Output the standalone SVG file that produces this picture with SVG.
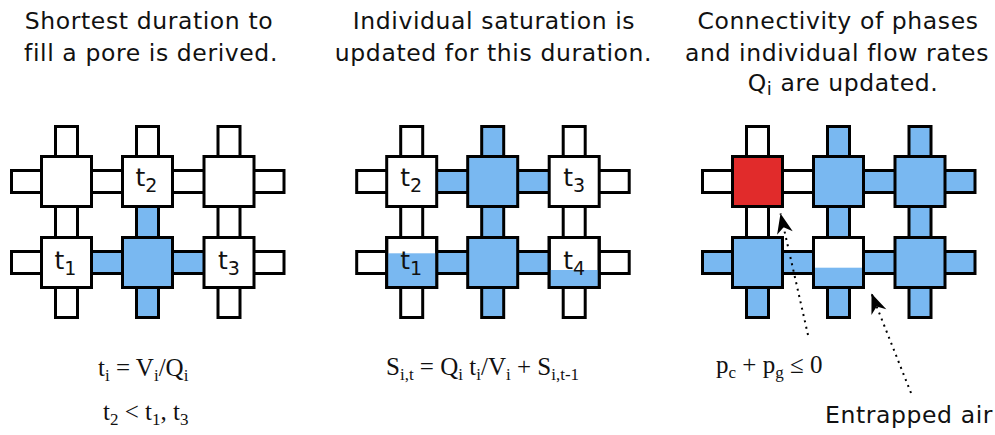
<svg xmlns="http://www.w3.org/2000/svg" width="995" height="435" viewBox="0 0 995 435">
<defs>
<style>
.tw{fill:#fff;stroke:#000;stroke-width:3}
.tb{fill:#79b8f1;stroke:#000;stroke-width:3}
.tr{fill:#e12b2b;stroke:#000;stroke-width:3}
.fb{fill:#79b8f1}
.out{fill:none;stroke:#000;stroke-width:3}
.title{font-family:"DejaVu Sans",Verdana,sans-serif;font-size:23.5px;letter-spacing:0.6px;fill:#111;text-anchor:middle}
.lbl{font-family:"DejaVu Sans",Verdana,sans-serif;font-size:25px;fill:#111;text-anchor:middle}
.math{font-family:"Liberation Serif","Times New Roman",serif;font-size:25px;fill:#111}
.sub{font-size:17px}
.dot{fill:none;stroke:#000;stroke-width:2;stroke-dasharray:2 4.5}
</style>
<marker id="ah" viewBox="-21 -9 22 18" refX="0" refY="0" markerWidth="22" markerHeight="18" markerUnits="userSpaceOnUse" orient="auto">
<path d="M0,0 L-20,-8 L-14,0 L-20,8 Z" fill="#000"/>
</marker>
</defs>
<rect width="995" height="435" fill="#fff"/>

<!-- titles -->
<g id="titles">
<text class="title" x="149" y="28.5">Shortest duration to</text>
<text class="title" x="151" y="60.5">fill a pore is derived.</text>
<text class="title" x="494" y="28.5">Individual saturation is</text>
<text class="title" x="493.5" y="60.5">updated for this duration.</text>
<text class="title" x="838" y="28.5">Connectivity of phases</text>
<text class="title" x="837" y="60.5">and individual flow rates</text>
<text class="title" x="843" y="90.5">Q<tspan font-size="18" dy="4">i</tspan><tspan dy="-4"> are updated.</tspan></text>
</g>

<!-- Panel 1 -->
<g id="panel1">
<g id="p1-throats">
<rect class="tw" x="55.5" y="126.5" width="22" height="40"/>
<rect class="tw" x="136.5" y="126.5" width="22" height="40"/>
<rect class="tw" x="218" y="126.5" width="22" height="40"/>
<rect class="tw" x="11.5" y="170.5" width="40" height="22"/>
<rect class="tw" x="81.5" y="170.5" width="51" height="22"/>
<rect class="tw" x="162.5" y="170.5" width="51.5" height="22"/>
<rect class="tw" x="244" y="170.5" width="40" height="22"/>
<rect class="tw" x="55.5" y="196.5" width="22" height="51"/>
<rect class="tb" x="136.5" y="196.5" width="22" height="51"/>
<rect class="tw" x="218" y="196.5" width="22" height="51"/>
<rect class="tw" x="11.5" y="251.5" width="40" height="22"/>
<rect class="tb" x="81.5" y="251.5" width="51" height="22"/>
<rect class="tb" x="162.5" y="251.5" width="51.5" height="22"/>
<rect class="tw" x="244" y="251.5" width="40" height="22"/>
<rect class="tw" x="55.5" y="277.5" width="22" height="40"/>
<rect class="tb" x="136.5" y="277.5" width="22" height="40"/>
<rect class="tw" x="218" y="277.5" width="22" height="40"/>
</g>
<g id="p1-n11"><rect class="tw" x="41.5" y="156.5" width="50" height="50"/></g>
<g id="p1-n12"><rect class="tw" x="122.5" y="156.5" width="50" height="50"/><text class="lbl" x="146.5" y="185.5">t<tspan font-size="19" dy="6">2</tspan></text></g>
<g id="p1-n13"><rect class="tw" x="204" y="156.5" width="50" height="50"/></g>
<g id="p1-n21"><rect class="tw" x="41.5" y="237.5" width="50" height="50"/><text class="lbl" x="65.5" y="268.5">t<tspan font-size="19" dy="6">1</tspan></text></g>
<g id="p1-n22"><rect class="tb" x="122.5" y="237.5" width="50" height="50"/></g>
<g id="p1-n23"><rect class="tw" x="204" y="237.5" width="50" height="50"/><text class="lbl" x="229" y="268.5">t<tspan font-size="19" dy="6">3</tspan></text></g>
</g>

<!-- Panel 2 -->
<g id="panel2" transform="translate(345.2,0)">
<g id="p2-throats">
<rect class="tw" x="55.5" y="126.5" width="22" height="40"/>
<rect class="tb" x="136.5" y="126.5" width="22" height="40"/>
<rect class="tw" x="218" y="126.5" width="22" height="40"/>
<rect class="tw" x="11.5" y="170.5" width="40" height="22"/>
<rect class="tb" x="81.5" y="170.5" width="51" height="22"/>
<rect class="tb" x="162.5" y="170.5" width="51.5" height="22"/>
<rect class="tw" x="244" y="170.5" width="40" height="22"/>
<rect class="tw" x="55.5" y="196.5" width="22" height="51"/>
<rect class="tb" x="136.5" y="196.5" width="22" height="51"/>
<rect class="tw" x="218" y="196.5" width="22" height="51"/>
<rect class="tw" x="11.5" y="251.5" width="40" height="22"/>
<rect class="tb" x="81.5" y="251.5" width="51" height="22"/>
<rect class="tb" x="162.5" y="251.5" width="51.5" height="22"/>
<rect class="tw" x="244" y="251.5" width="40" height="22"/>
<rect class="tw" x="55.5" y="277.5" width="22" height="40"/>
<rect class="tb" x="136.5" y="277.5" width="22" height="40"/>
<rect class="tw" x="218" y="277.5" width="22" height="40"/>
</g>
<g id="p2-n11"><rect class="tw" x="41.5" y="156.5" width="50" height="50"/><text class="lbl" x="66" y="185.5">t<tspan font-size="19" dy="6">2</tspan></text></g>
<g id="p2-n12"><rect class="tb" x="122.5" y="156.5" width="50" height="50"/></g>
<g id="p2-n13"><rect class="tw" x="204" y="156.5" width="50" height="50"/><text class="lbl" x="229" y="185.5">t<tspan font-size="19" dy="6">3</tspan></text></g>
<g id="p2-n21"><rect class="tw" x="41.5" y="237.5" width="50" height="50"/><rect class="fb" x="41.5" y="253.3" width="50" height="34.2"/><rect class="out" x="41.5" y="237.5" width="50" height="50"/><text class="lbl" x="66" y="268.5">t<tspan font-size="19" dy="6">1</tspan></text></g>
<g id="p2-n22"><rect class="tb" x="122.5" y="237.5" width="50" height="50"/></g>
<g id="p2-n23"><rect class="tw" x="204" y="237.5" width="50" height="50"/><rect class="fb" x="204" y="270" width="50" height="17.5"/><rect class="out" x="204" y="237.5" width="50" height="50"/><text class="lbl" x="229" y="268.5">t<tspan font-size="19" dy="6">4</tspan></text></g>
</g>

<!-- Panel 3 -->
<g id="panel3" transform="translate(691,0)">
<g id="p3-throats">
<rect class="tw" x="55.5" y="126.5" width="22" height="40"/>
<rect class="tb" x="136.5" y="126.5" width="22" height="40"/>
<rect class="tb" x="218" y="126.5" width="22" height="40"/>
<rect class="tw" x="11.5" y="170.5" width="40" height="22"/>
<rect class="tw" x="81.5" y="170.5" width="51" height="22"/>
<rect class="tb" x="162.5" y="170.5" width="51.5" height="22"/>
<rect class="tb" x="244" y="170.5" width="40" height="22"/>
<rect class="tw" x="55.5" y="196.5" width="22" height="51"/>
<rect class="tb" x="136.5" y="196.5" width="22" height="51"/>
<rect class="tb" x="218" y="196.5" width="22" height="51"/>
<rect class="tb" x="11.5" y="251.5" width="40" height="22"/>
<rect class="tb" x="81.5" y="251.5" width="51" height="22"/>
<rect class="tb" x="162.5" y="251.5" width="51.5" height="22"/>
<rect class="tb" x="244" y="251.5" width="40" height="22"/>
<rect class="tb" x="55.5" y="277.5" width="22" height="40"/>
<rect class="tb" x="136.5" y="277.5" width="22" height="40"/>
<rect class="tb" x="218" y="277.5" width="22" height="40"/>
</g>
<g id="p3-n11"><rect class="tr" x="41.5" y="156.5" width="50" height="50"/></g>
<g id="p3-n12"><rect class="tb" x="122.5" y="156.5" width="50" height="50"/></g>
<g id="p3-n13"><rect class="tb" x="204" y="156.5" width="50" height="50"/></g>
<g id="p3-n21"><rect class="tb" x="41.5" y="237.5" width="50" height="50"/></g>
<g id="p3-n22"><rect class="tw" x="122.5" y="237.5" width="50" height="50"/><rect class="fb" x="122.5" y="267.7" width="50" height="19.8"/><rect class="out" x="122.5" y="237.5" width="50" height="50"/></g>
<g id="p3-n23"><rect class="tb" x="204" y="237.5" width="50" height="50"/></g>
</g>

<!-- connectors (annotation arrows) -->
<g id="connectors">
<path class="dot" d="M808,335 L780.5,213.5" marker-end="url(#ah)"/>
<path class="dot" d="M911,393 L871.5,293.5" marker-end="url(#ah)"/>
</g>

<!-- formulas -->
<g id="formulas">
<text class="math" x="98" y="376">t<tspan class="sub" dy="5">i</tspan><tspan dy="-5"> = V</tspan><tspan class="sub" dy="5">i</tspan><tspan dy="-5">/Q</tspan><tspan class="sub" dy="5">i</tspan></text>
<text class="math" x="103" y="420">t<tspan class="sub" dy="5">2</tspan><tspan dy="-5"> &lt; t</tspan><tspan class="sub" dy="5">1</tspan><tspan dy="-5">, t</tspan><tspan class="sub" dy="5">3</tspan></text>
<text class="math" x="386" y="375">S<tspan class="sub" dy="5">i,t</tspan><tspan dy="-5"> = Q</tspan><tspan class="sub" dy="5">i</tspan><tspan dy="-5"> t</tspan><tspan class="sub" dy="5">i</tspan><tspan dy="-5">/V</tspan><tspan class="sub" dy="5">i</tspan><tspan dy="-5"> + S</tspan><tspan class="sub" dy="5">i,t-1</tspan></text>
<text class="math" x="716" y="373">p<tspan class="sub" dy="5">c</tspan><tspan dy="-5"> + p</tspan><tspan class="sub" dy="5">g</tspan><tspan dy="-5"> ≤ 0</tspan></text>
<text class="title" x="909" y="423">Entrapped air</text>
</g>
</svg>
